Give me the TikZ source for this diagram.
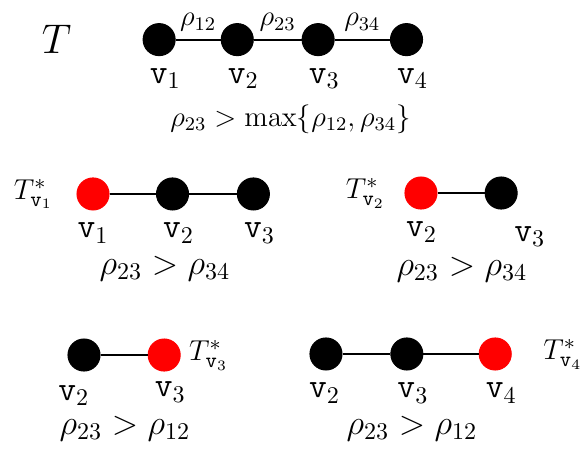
\documentclass[tikz,border=0pt]{standalone}
\usepackage{amsmath}
\usepackage{xcolor}
\usepackage{tikz}
\usetikzlibrary{positioning}

\begin{document}
\begin{tikzpicture}[
        node distance=0.69cm,
        vert/.style={draw=black, fill=black, circle, minimum size=0.47cm, inner sep=0pt},
        root/.style={vert, draw=red, fill=red},
        edge/.style={thick},
        wlab/.style={font=\large, inner sep=1pt},
        vlab/.style={font=\Large, inner sep=0pt, xshift=0.09cm},
        cond/.style={font=\Large, inner sep=0pt, anchor=base},
        tlab/.style={font=\fontsize{13}{15}\selectfont},
    ]
        \useasboundingbox (0,0) rectangle (8.551,-6.618);

        % Tree T (top)
        \node (tname) [font=\LARGE, anchor=base] at (0.827,-0.776) {$T$};
        \node (v1) [vert] at (2.33,-0.58) {};
        \node (v2) [vert, right=0.66cm of v1] {};
        \node (v3) [vert, right=0.70cm of v2] {};
        \node (v4) [vert, right=0.81cm of v3] {};
        \draw [edge] (v1) -- node[wlab, midway, above=2pt] {$\rho_{12}$} (v2);
        \draw [edge] (v2) -- node[wlab, midway, above=2pt] {$\rho_{23}$} (v3);
        \draw [edge] (v3) -- node[wlab, midway, above=2pt] {$\rho_{34}$} (v4);
        \node (lv1) [vlab, below=5pt of v1] {\texttt{v}$_1$};
        \node (lv2) [vlab, below=5pt of v2] {\texttt{v}$_2$};
        \node (lv3) [vlab, below=5pt of v3] {\texttt{v}$_3$};
        \node (lv4) [vlab, below=5pt of v4] {\texttt{v}$_4$};
        \node (condT) [cond, font=\large] at (4.253,-1.850) {$\rho_{23} > \max\{\rho_{12}, \rho_{34}\}$};

        % T*_v1 (middle left)
        \node (a1) [root] at (1.362,-2.840) {};
        \node (a2) [vert, right=0.68cm of a1] {};
        \node (a3) [vert, right=0.70cm of a2] {};
        \draw [edge] (a1) -- (a2);
        \draw [edge] (a2) -- (a3);
        \node (tv1) [tlab, left=0.22cm of a1] {$T^*_{\mathtt{v}_1}$};
        \node (la1) [vlab, xshift=-0.09cm, below=5pt of a1] {\texttt{v}$_1$};
        \node (la2) [vlab, below=5pt of a2] {\texttt{v}$_2$};
        \node (la3) [vlab, below=5pt of a3] {\texttt{v}$_3$};
        \node (condA) [cond] at (2.416,-4.02) {$\rho_{23} > \rho_{34}$};

        % T*_v2 (middle right)
        \node (b2) [root] at (6.164,-2.826) {};
        \node (b3) [vert, right=0.69cm of b2] {};
        \draw [edge] (b2) -- (b3);
        \node (tv2) [tlab, left=0.16cm of b2] {$T^*_{\mathtt{v}_2}$};
        \node (lb2) [vlab, xshift=-0.08cm, below=5pt of b2] {\texttt{v}$_2$};
        \node (lb3) [vlab, xshift=0.33cm, yshift=-0.06cm, below=5pt of b3] {\texttt{v}$_3$};
        \node (condB) [cond] at (6.764,-4.03) {$\rho_{23} > \rho_{34}$};

        % T*_v3 (bottom left)
        \node (c2) [vert] at (1.230,-5.198) {};
        \node (c3) [root, right=0.69cm of c2] {};
        \draw [edge] (c2) -- (c3);
        \node (tv3) [tlab, right=0pt of c3] {$T^*_{\mathtt{v}_3}$};
        \node (lc2) [vlab, xshift=-0.24cm, yshift=-0.02cm, below=5pt of c2] {\texttt{v}$_2$};
        \node (lc3) [vlab, yshift=0.03cm, below=5pt of c3] {\texttt{v}$_3$};
        \node (condC) [cond] at (1.830,-6.36) {$\rho_{23} > \rho_{12}$};

        % T*_v4 (bottom right)
        \node (d2) [vert] at (4.773,-5.183) {};
        \node (d3) [vert, right=0.70cm of d2] {};
        \node (d4) [root, right=0.81cm of d3] {};
        \draw [edge] (d2) -- (d3);
        \draw [edge] (d3) -- (d4);
        \node (tv4) [tlab, right=0.34cm of d4] {$T^*_{\mathtt{v}_4}$};
        \node (ld2) [vlab, xshift=-0.11cm, below=5pt of d2] {\texttt{v}$_2$};
        \node (ld3) [vlab, below=5pt of d3] {\texttt{v}$_3$};
        \node (ld4) [vlab, below=5pt of d4] {\texttt{v}$_4$};
        \node (condD) [cond] at (6.032,-6.36) {$\rho_{23} > \rho_{12}$};

\end{tikzpicture}
\end{document}
